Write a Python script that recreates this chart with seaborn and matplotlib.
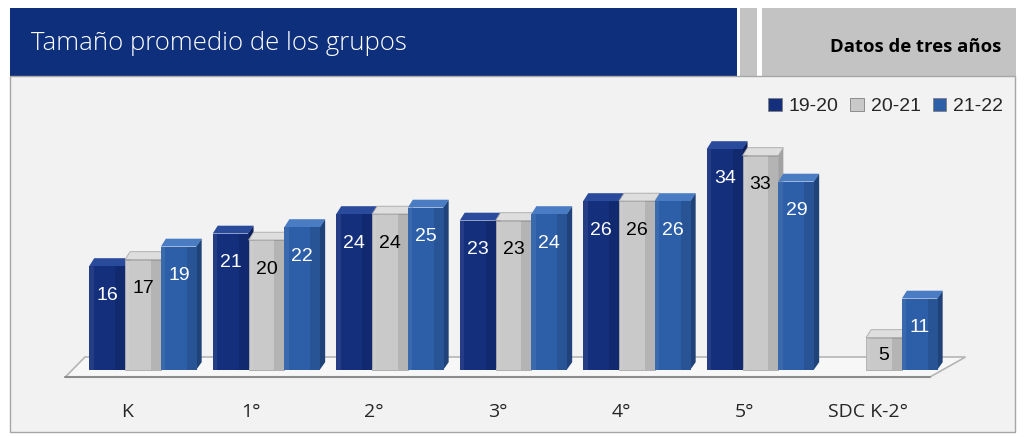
import numpy as np
import pandas as pd
import matplotlib
matplotlib.use("Agg")
import matplotlib.pyplot as plt
import seaborn as sns
from matplotlib.patches import Rectangle, Polygon

# ---- data ----
categories = ["K", "1°", "2°", "3°", "4°", "5°", "SDC K-2°"]
series = ["19-20", "20-21", "21-22"]
vals_1920 = [16, 21, 24, 23, 26, 34, np.nan]
vals_2021 = [17, 20, 24, 23, 26, 33, 5]
vals_2122 = [19, 22, 25, 24, 26, 29, 11]
title = "Tamaño promedio de los grupos"
subtitle = "Datos de tres años"

colors = {"19-20": "#142f7c", "20-21": "#c9c9c9", "21-22": "#2d5ea8"}
top_colors = {"19-20": "#2a4a9c", "20-21": "#dedede", "21-22": "#4a7cc4"}
side_colors = {"19-20": "#0c1f57", "20-21": "#a2a2a2", "21-22": "#1f4278"}
edge_colors = {"19-20": "none", "20-21": "#a8a8a8", "21-22": "none"}
text_colors = {"19-20": "white", "20-21": "black", "21-22": "white"}

rows = []
for s, vals in zip(series, [vals_1920, vals_2021, vals_2122]):
    for c, v in zip(categories, vals):
        if not np.isnan(v):
            rows.append({"Grado": c, "Año": s, "Valor": v})
df = pd.DataFrame(rows)

sns.set_style("white")
plt.rcParams["font.family"] = ["Open Sans", "DejaVu Sans"]

W, H = 1024, 437
fig = plt.figure(figsize=(W / 100, H / 100), dpi=100)
fig.patch.set_facecolor("white")

def fx(px):
    return px / W

def fy(py):
    return 1 - py / H

# header
for (xa, xb, col) in [(10, 737, "#0e2f7b"), (740, 757, "#c3c3c3"), (762, 1016, "#c3c3c3")]:
    fig.patches.append(Rectangle((fx(xa), fy(76)), fx(xb) - fx(xa), fy(8) - fy(76),
                                 transform=fig.transFigure, facecolor=col,
                                 edgecolor="none", zorder=-5))
fig.text(fx(31), fy(43), title, color="white", fontsize=18.5, fontweight="light",
         ha="left", va="center")
fig.text(fx(1001), fy(47), subtitle, color="black", fontsize=13.3, fontweight="bold",
         ha="right", va="center")

# panel
fig.patches.append(Rectangle((fx(10), fy(432)), fx(1015) - fx(10), fy(76) - fy(432),
                             transform=fig.transFigure, facecolor="#f2f2f2",
                             edgecolor="#a6a6a6", linewidth=1, zorder=-5))

# axes
ax_top, ax_bot = 76, 385
ax = fig.add_axes([fx(10), fy(ax_bot), fx(1015) - fx(10), fy(ax_top) - fy(ax_bot)])
ax.set_facecolor("none")

px_per_unit_x = 123.5
x0_px = 143
px_per_unit_y = 6.5
base_px = 370
xlim = (-(x0_px - 10) / px_per_unit_x, (1015 - x0_px) / px_per_unit_x)
ylim = (-(ax_bot - base_px) / px_per_unit_y, (base_px - ax_top) / px_per_unit_y)

sns.barplot(data=df, x="Grado", y="Valor", hue="Año", order=categories,
            hue_order=series, palette=colors, width=0.87, gap=0.0,
            saturation=1, ax=ax, legend=True)
ax.set_xlim(*xlim)
ax.set_ylim(*ylim)

# floor
n = len(categories)
floor = Polygon([(-0.63, -1.1), (n - 0.63, -1.1), (n - 0.34, 2.0), (-0.47, 2.0)],
                closed=True, facecolor="#f7f7f7", edgecolor="#b5b5b5", linewidth=1.2, zorder=0.5)
ax.add_patch(floor)
ax.plot([-0.63, n - 0.63], [-1.1, -1.1], color="#8c8c8c", lw=1.5, zorder=0.6)

# 3D styling of bars
dx, dy = 0.04, 1.2
for s, cont in zip(series, ax.containers):
    for p in cont.patches:
        h = p.get_height()
        if not np.isfinite(h) or h == 0:
            p.set_visible(False)
            continue
        x0 = p.get_x()
        w = p.get_width()
        x1 = x0 + w
        z = 2 + x0 * 0.01
        p.set_zorder(z)
        p.set_edgecolor(edge_colors[s])
        p.set_linewidth(0.6)
        ax.add_patch(Polygon([(x1 - 0.005, 0), (x1 + dx, dy), (x1 + dx, h + dy), (x1 - 0.005, h)],
                             closed=True, facecolor=side_colors[s], edgecolor="none",
                             zorder=z - 0.001))
        ax.add_patch(Polygon([(x0, h), (x0 + dx, h + dy), (x1 + dx, h + dy), (x1, h)],
                             closed=True, facecolor=top_colors[s], edgecolor=edge_colors[s],
                             linewidth=0.6, zorder=z - 0.001))
        ax.add_patch(Rectangle((x0 + w * 0.72, 0), w * 0.28, h, facecolor="black",
                               alpha=0.10, edgecolor="none", zorder=z + 0.001))
        ax.add_patch(Rectangle((x0, 0), w * 0.12, h, facecolor="white",
                               alpha=0.07, edgecolor="none", zorder=z + 0.001))
        ly = max(h - 4.5, h * 0.45)
        ax.text(x0 + w / 2, ly, f"{int(h)}", ha="center", va="center",
                color=text_colors[s], fontsize=14, family=["Liberation Sans", "DejaVu Sans"],
                zorder=z + 0.01)

# ticks (labels sit left of the group centre, as in the 3D view)
ax.set_xlabel("")
ax.set_ylabel("")
ax.set_yticks([])
ax.set_xticks(np.arange(n) - 0.13)
ax.set_xticklabels(categories, fontsize=14)
ax.tick_params(axis="x", length=0, pad=13)
for sp in ax.spines.values():
    sp.set_visible(False)

handles, labels = ax.get_legend_handles_labels()
for hnd in handles:
    hnd.set_edgecolor("#808080")
    hnd.set_linewidth(0.6)
leg = ax.legend(handles, labels, loc="upper right", bbox_to_anchor=(0.988, 0.93),
                ncol=3, frameon=False, handlelength=0.68, handleheight=0.68,
                handletextpad=0.36, columnspacing=0.62, borderpad=0, borderaxespad=0,
                prop={"family": ["Liberation Sans", "DejaVu Sans"], "size": 14})

fig.savefig("out.png", dpi=100, facecolor="white")
